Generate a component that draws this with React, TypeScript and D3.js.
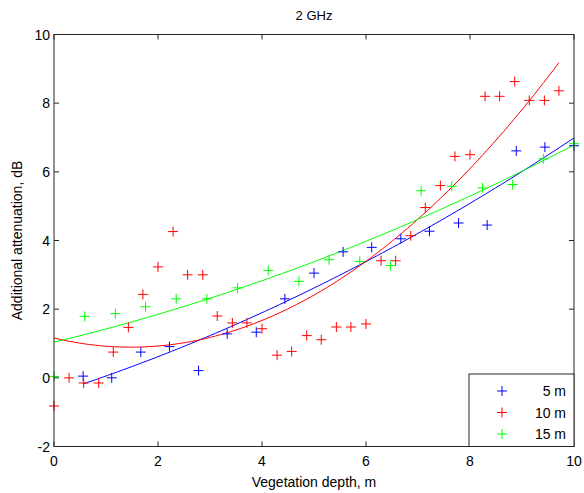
import React, { useEffect, useRef } from 'react';
import * as d3 from 'd3';

const x5 = [0.56, 1.11, 1.67, 2.22, 2.78, 3.33, 3.89, 4.44, 5.0, 5.56, 6.11, 6.67, 7.22, 7.78, 8.33, 8.89, 9.44, 10.0];
const y5 = [0.05, 0.0, 0.75, 0.91, 0.21, 1.28, 1.33, 2.3, 3.05, 3.67, 3.8, 4.05, 4.27, 4.51, 4.45, 6.61, 6.72, 6.76];

const x10 = [0, 0.29, 0.57, 0.86, 1.14, 1.43, 1.71, 2.0, 2.29, 2.57, 2.86, 3.14, 3.43, 3.71, 4.0, 4.29, 4.57, 4.86,
  5.14, 5.43, 5.71, 6.0, 6.29, 6.57, 6.86, 7.14, 7.43, 7.71, 8.0, 8.29, 8.57, 8.86, 9.14, 9.43, 9.71];
const y10 = [-0.82, 0.0, -0.15, -0.15, 0.75, 1.47, 2.43, 3.23, 4.26, 3.0, 3.0, 1.8, 1.6, 1.6, 1.43, 0.66, 0.77, 1.23,
  1.11, 1.48, 1.48, 1.57, 3.41, 3.41, 4.14, 4.96, 5.6, 6.45, 6.5, 8.2, 8.2, 8.63, 8.08, 8.08, 8.36];

const x15 = [0, 0.59, 1.18, 1.76, 2.35, 2.94, 3.53, 4.12, 4.71, 5.29, 5.88, 6.47, 7.06, 7.65, 8.24, 8.82, 9.41, 10.0];
const y15 = [0.04, 1.79, 1.87, 2.07, 2.3, 2.3, 2.62, 3.13, 2.81, 3.44, 3.39, 3.27, 5.45, 5.58, 5.53, 5.63, 6.38, 6.82];

const seriesNames = ['5 m', '10 m', '15 m'];
const seriesColors = ['#0000ff', '#ff0000', '#00ff00'];
const xTicks = [0, 2, 4, 6, 8, 10];
const yTicks = [-2, 0, 2, 4, 6, 8, 10];

// quadratic least squares, like polyfit(x, y, 2)
function polyfit2(xs: number[], ys: number[]) {
  let s0 = 0, s1 = 0, s2 = 0, s3 = 0, s4 = 0, t0 = 0, t1 = 0, t2 = 0;
  xs.forEach((x, i) => {
    const y = ys[i];
    s0 += 1; s1 += x; s2 += x * x; s3 += x * x * x; s4 += x * x * x * x;
    t0 += y; t1 += x * y; t2 += x * x * y;
  });
  const m = [[s4, s3, s2, t2], [s3, s2, s1, t1], [s2, s1, s0, t0]];
  for (let c = 0; c < 3; c++) {
    for (let r = c + 1; r < 3; r++) {
      const f = m[r][c] / m[c][c];
      for (let k = c; k < 4; k++) m[r][k] -= f * m[c][k];
    }
  }
  const res = [0, 0, 0];
  for (let r = 2; r >= 0; r--) {
    let s = m[r][3];
    for (let k = r + 1; k < 3; k++) s -= m[r][k] * res[k];
    res[r] = s / m[r][r];
  }
  return res; // a, b, c
}

export default function App() {
  const ref = useRef<SVGSVGElement>(null);

  useEffect(() => {
    const width = 584, height = 493;
    const left = 54, right = 574, top = 34.5, bottom = 446.5;
    const font = '"Liberation Sans", Arial, sans-serif';

    const svg = d3.select(ref.current);
    svg.selectAll('*').remove();

    const xScale = d3.scaleLinear().domain([0, 10]).range([left, right]);
    const yScale = d3.scaleLinear().domain([-2, 10]).range([bottom, top]);

    svg.append('rect').attr('width', width).attr('height', height).attr('fill', '#fff');

    const series = [[x5, y5], [x10, y10], [x15, y15]];

    const plot = svg.append('g');

    // fitted curves
    series.forEach(([xs, ys], i) => {
      const [a, b, c] = polyfit2(xs, ys);
      const x0 = d3.min(xs) as number, x1 = d3.max(xs) as number;
      const pts = d3.range(0, 101).map(j => {
        const x = x0 + (x1 - x0) * j / 100;
        return [x, a * x * x + b * x + c] as [number, number];
      });
      plot.append('path')
        .attr('d', d3.line().x(d => xScale(d[0])).y(d => yScale(d[1]))(pts) as string)
        .attr('fill', 'none')
        .attr('stroke', seriesColors[i])
        .attr('stroke-width', 1);
    });

    // markers
    const plus = (g: any, cx: number, cy: number, color: string) => {
      g.append('path')
        .attr('d', `M${cx - 5},${cy}H${cx + 5}M${cx},${cy - 5}V${cy + 5}`)
        .attr('stroke', color)
        .attr('stroke-width', 1)
        .attr('fill', 'none');
    };
    series.forEach(([xs, ys], i) => {
      xs.forEach((x, j) => plus(plot, xScale(x), yScale(ys[j]), seriesColors[i]));
    });

    // box + ticks
    const axisColor = '#262626';
    svg.append('rect')
      .attr('x', left).attr('y', top)
      .attr('width', right - left).attr('height', bottom - top)
      .attr('fill', 'none').attr('stroke', axisColor).attr('stroke-width', 1);

    xTicks.forEach(t => {
      const x = xScale(t);
      svg.append('line').attr('x1', x).attr('x2', x).attr('y1', bottom).attr('y2', bottom - 5).attr('stroke', axisColor);
      svg.append('line').attr('x1', x).attr('x2', x).attr('y1', top).attr('y2', top + 5).attr('stroke', axisColor);
      svg.append('text').attr('x', x).attr('y', bottom + 19)
        .attr('text-anchor', 'middle').attr('font-family', font).attr('font-size', 14)
        .text(t);
    });
    yTicks.forEach(t => {
      const y = yScale(t);
      svg.append('line').attr('x1', left).attr('x2', left + 5).attr('y1', y).attr('y2', y).attr('stroke', axisColor);
      svg.append('line').attr('x1', right).attr('x2', right - 5).attr('y1', y).attr('y2', y).attr('stroke', axisColor);
      svg.append('text').attr('x', left - 4).attr('y', y + 5)
        .attr('text-anchor', 'end').attr('font-family', font).attr('font-size', 14)
        .text(t);
    });

    // title & labels
    svg.append('text').attr('x', (left + right) / 2).attr('y', 20)
      .attr('text-anchor', 'middle').attr('font-family', font).attr('font-size', 13)
      .text('2 GHz');
    svg.append('text').attr('x', (left + right) / 2).attr('y', 487)
      .attr('text-anchor', 'middle').attr('font-family', font).attr('font-size', 14)
      .text('Vegetation depth, m');
    svg.append('text')
      .attr('transform', `translate(22, ${(top + bottom) / 2}) rotate(-90)`)
      .attr('text-anchor', 'middle').attr('font-family', font).attr('font-size', 14)
      .text('Additional attenuation, dB');

    // legend
    const lg = svg.append('g');
    lg.append('rect').attr('x', 469).attr('y', 374).attr('width', 105).attr('height', 72.5)
      .attr('fill', '#fff').attr('stroke', axisColor);
    seriesNames.forEach((name, i) => {
      const y = 391 + i * 21.5;
      plus(lg, 502, y, seriesColors[i]);
      lg.append('text').attr('x', 566).attr('y', y + 5)
        .attr('text-anchor', 'end').attr('font-family', font).attr('font-size', 14)
        .text(name);
    });
  }, []);

  return (
    <svg ref={ref} width={584} height={493} style={{ display: 'block', position: 'absolute', left: 0, top: 0 }} />
  );
}
